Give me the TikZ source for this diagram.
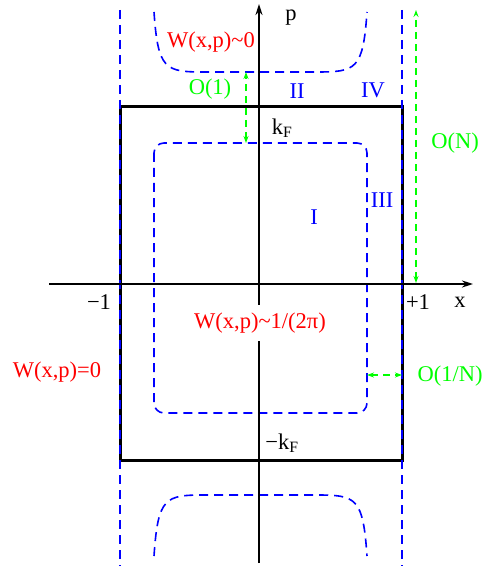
\documentclass[tikz,border=0pt]{standalone}
\usepackage{fontspec}
\setmainfont{Liberation Serif}
\usetikzlibrary{arrows.meta}
\begin{document}
\begin{tikzpicture}[x=1pt, y=-1pt,
    lbl/.style={inner sep=0pt, font=\fontsize{22.5}{26}\selectfont},
    redlbl/.style={lbl, text=red},
    greenlbl/.style={lbl, text=green},
    bluelbl/.style={lbl, text=blue},
    wall/.style={blue, line width=1.6pt, dash pattern=on 9pt off 6pt},
    border/.style={black, line width=3pt},
    axis/.style={black, line width=1.8pt, -{Stealth[length=11pt, width=7pt]}},
    garrow/.style={green, line width=1.6pt, dash pattern=on 7pt off 5pt, {Stealth[length=7pt, width=5pt]}-{Stealth[length=7pt, width=5pt]}},
    garrowopen/.style={green, line width=1.6pt, dash pattern=on 7pt off 5pt, {Stealth[length=7pt, width=5pt]}-{Stealth[length=7pt, width=5pt, open]}}
]
    \useasboundingbox (0,0) rectangle (497,569);

    % Fermi square
    \draw[border] (120,107) rectangle (402,460);

    % Outer walls
    \coordinate (wlt) at (120,10);  \coordinate (wlb) at (120,566);
    \coordinate (wrt) at (402,10);  \coordinate (wrb) at (402,566);
    \draw[wall] (wlt) -- (wlb);
    \draw[wall] (wrt) -- (wrb);

    % Inner region I
    \draw[wall, rounded corners=10pt] (154,143) rectangle (367,413);

    % Tails above and below the square
    \draw[wall] (154,12) .. controls (158,70) and (165,72) .. (205,72)
        -- (316,72) .. controls (356,72) and (363,70) .. (367,12);
    \draw[wall] (154,556) .. controls (158,497) and (165,495) .. (205,495)
        -- (316,495) .. controls (356,495) and (363,497) .. (367,556);

    % Axes
    \coordinate (xl) at (49,284);  \coordinate (xr) at (473,284);
    \coordinate (pb) at (259,563); \coordinate (pt) at (259,4);
    \draw[axis] (xl) -- (xr);
    \draw[axis] (pb) -- (pt);

    % Axis labels
    \node[lbl] (plabel) at (291,18) {p};
    \node[lbl] (xlabel) at (460,302) {x};
    \node[lbl] (mone) at (99,302) {−1};
    \node[lbl] (pone) at (418,302) {+1};
    \node[lbl] (kf) at (282,128) {k\textsubscript{F}};
    \node[lbl] (mkf) at (282,443) {−k\textsubscript{F}};

    % Regions
    \node[bluelbl] (rI) at (314,217) {I};
    \node[bluelbl] (rII) at (297,91) {II};
    \node[bluelbl] (rIII) at (382,200) {III};
    \node[bluelbl] (rIV) at (373,90) {IV};

    % Wigner values
    \node[redlbl] (wzero) at (211,42) {W(x,p)\textasciitilde 0};
    \node[redlbl, fill=white, inner ysep=8pt] (winner) at (260,323) {W(x,p)\textasciitilde 1/(2π)};
    \node[redlbl] (wout) at (57,372) {W(x,p)=0};

    % Scales
    \coordinate (oa) at (246,72);  \coordinate (ob) at (246,143);
    \coordinate (na) at (416,10);  \coordinate (nb) at (416,283);
    \coordinate (sa) at (367,375); \coordinate (sb) at (402,375);
    \draw[garrow] (ob) -- (oa);
    \draw[garrow] (nb) -- (na);
    \draw[garrowopen] (sa) -- (sb);
    \node[greenlbl] (oone) at (210,89) {O(1)};
    \node[greenlbl] (on) at (455,143) {O(N)};
    \node[greenlbl] (oinv) at (450,376) {O(1/N)};
\end{tikzpicture}
\end{document}
